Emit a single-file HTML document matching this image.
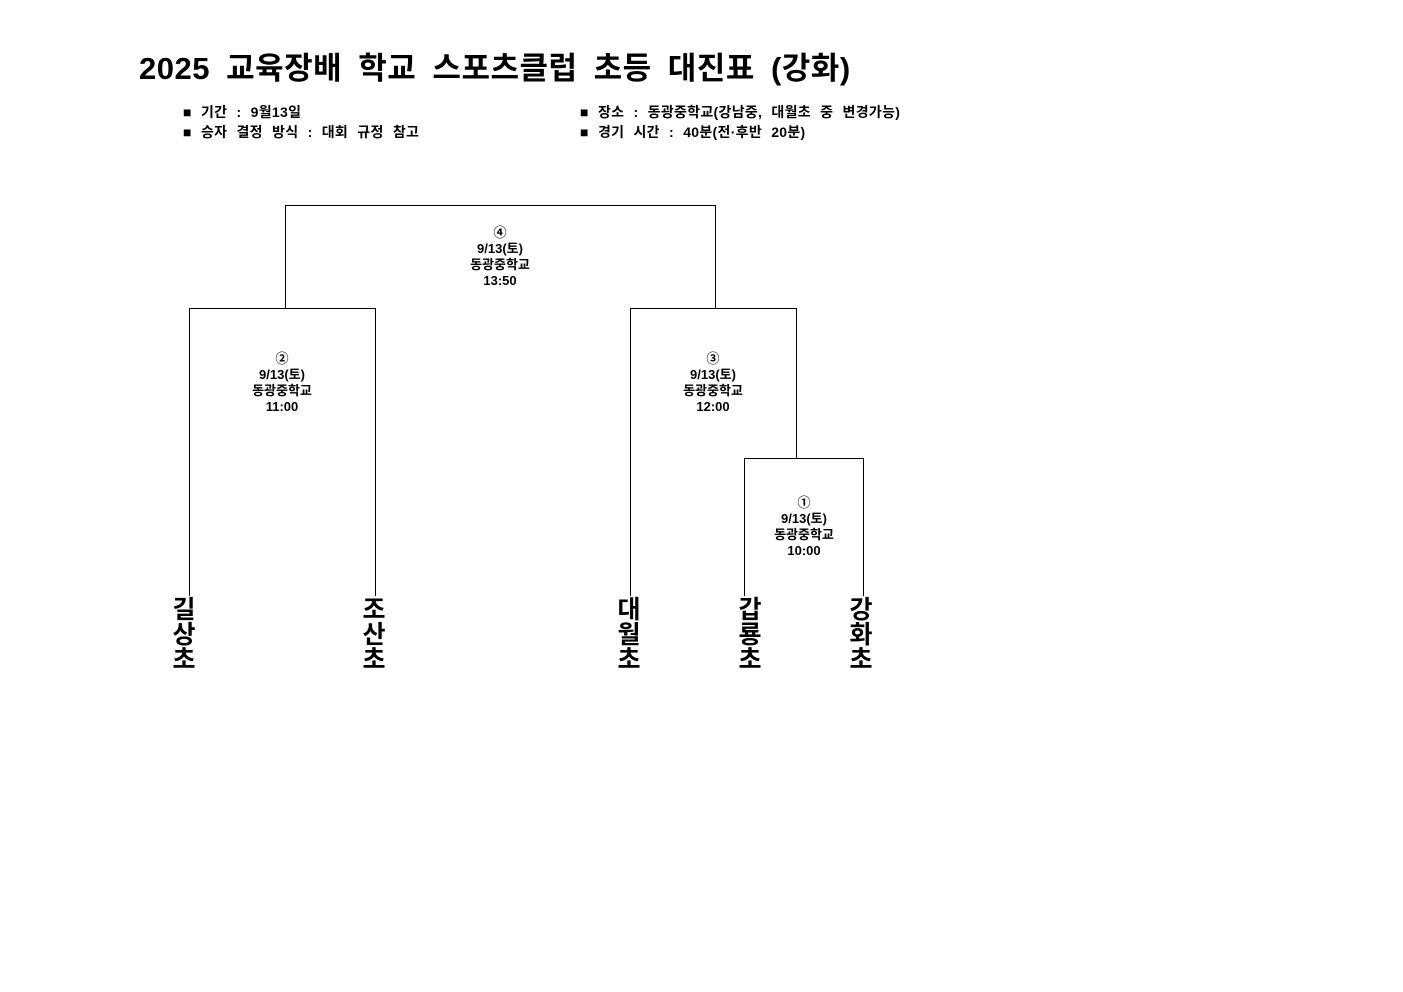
<!DOCTYPE html>
<html><head><meta charset="utf-8"><style>
body{margin:0;width:1403px;height:992px;background:#fff;position:relative;font-family:"Liberation Sans","Noto Sans CJK KR",sans-serif;color:#000;overflow:hidden}
.a{position:absolute}
.h{position:absolute;height:1px;background:#000}
.v{position:absolute;width:1px;background:#000}
.t{font-size:31px;font-weight:bold;white-space:nowrap;letter-spacing:0.5px;word-spacing:7px}
.i{font-size:14px;font-weight:bold;white-space:nowrap;word-spacing:5px;letter-spacing:0.3px}
.m{position:absolute;width:120px;text-align:center;font-size:13px;font-weight:bold;line-height:16px}
.n{position:absolute;width:30px;text-align:center;font-size:25px;font-weight:bold;line-height:25px}
</style></head><body>
<div class="a t" style="left:139px;top:43px">2025 교육장배 학교 스포츠클럽 초등 대진표 (강화)</div>
<div class="a i" style="left:183px;top:102px">■ 기간 : 9월13일</div>
<div class="a i" style="left:183px;top:122px">■ 승자 결정 방식 : 대회 규정 참고</div>
<div class="a i" style="left:580px;top:102px">■ 장소 : 동광중학교(강남중, 대월초 중 변경가능)</div>
<div class="a i" style="left:580px;top:122px">■ 경기 시간 : 40분(전·후반 20분)</div>

<div class="h" style="left:285px;top:205px;width:431px"></div>
<div class="v" style="left:285px;top:205px;height:104px"></div>
<div class="v" style="left:715px;top:205px;height:104px"></div>
<div class="h" style="left:189px;top:308px;width:187px"></div>
<div class="h" style="left:630px;top:308px;width:167px"></div>
<div class="v" style="left:189px;top:308px;height:288px"></div>
<div class="v" style="left:375px;top:308px;height:288px"></div>
<div class="v" style="left:630px;top:308px;height:288px"></div>
<div class="v" style="left:796px;top:308px;height:151px"></div>
<div class="h" style="left:744px;top:458px;width:120px"></div>
<div class="v" style="left:744px;top:458px;height:138px"></div>
<div class="v" style="left:863px;top:458px;height:138px"></div>

<div class="m" style="left:440px;top:225px">④<br>9/13(토)<br>동광중학교<br>13:50</div>
<div class="m" style="left:222px;top:351px">②<br>9/13(토)<br>동광중학교<br>11:00</div>
<div class="m" style="left:653px;top:351px">③<br>9/13(토)<br>동광중학교<br>12:00</div>
<div class="m" style="left:744px;top:495px">①<br>9/13(토)<br>동광중학교<br>10:00</div>

<div class="n" style="left:169px;top:598px">길<br>상<br>초</div>
<div class="n" style="left:359px;top:598px">조<br>산<br>초</div>
<div class="n" style="left:614px;top:598px">대<br>월<br>초</div>
<div class="n" style="left:735px;top:598px">갑<br>룡<br>초</div>
<div class="n" style="left:846px;top:598px">강<br>화<br>초</div>
</body></html>
